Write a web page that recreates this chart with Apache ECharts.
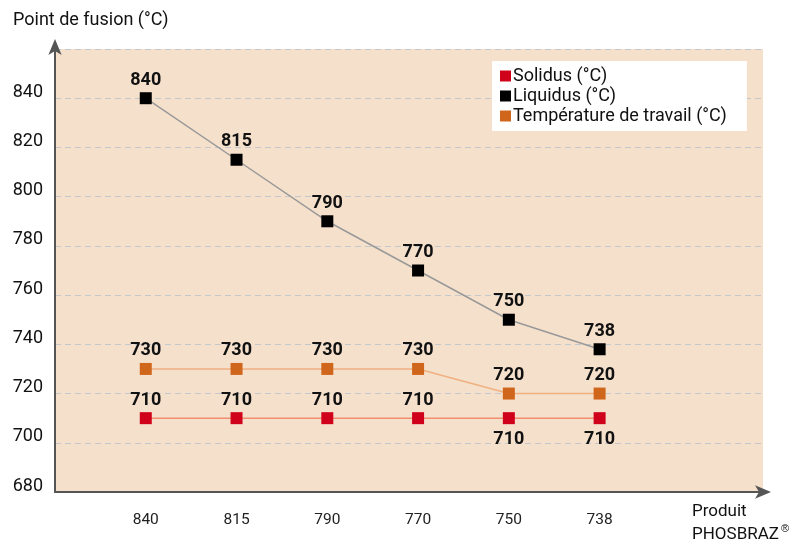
<!DOCTYPE html>
<html>
<head>
<meta charset="utf-8">
<script src="https://cdn.jsdelivr.net/npm/echarts@6/dist/echarts.min.js"></script>
<style>
  html, body { margin: 0; padding: 0; background: #fff; }
  #chart { width: 799px; height: 547px; }
</style>
</head>
<body>
<div id="chart"></div>
<script>
var categories = ['840', '815', '790', '770', '750', '738'];
var solidus = [710, 710, 710, 710, 710, 710];
var liquidus = [840, 815, 790, 770, 750, 738];
var travail = [730, 730, 730, 730, 720, 720];
var yTicks = [680, 700, 720, 740, 760, 780, 800, 820, 840];

var FONT = 'Roboto';

function pts(arr) {
  return arr.map(function (v, i) { return [i, v]; });
}

var labelStyle = {
  show: true,
  position: 'top',
  distance: 3,
  fontFamily: FONT,
  fontWeight: 'bold',
  fontSize: 18,
  color: '#111'
};

var chart = echarts.init(document.getElementById('chart'));
chart.setOption({
  backgroundColor: '#fff',
  animation: false,
  grid: { left: 55, right: 36, top: 49, bottom: 55, backgroundColor: '#f5e0cc', show: true, borderWidth: 0 },
  legend: {
    orient: 'vertical',
    left: 492, top: 61,
    padding: [6, 20, 6, 8],
    backgroundColor: '#fff',
    itemWidth: 11, itemHeight: 11, itemGap: 2,
    textStyle: { fontFamily: FONT, fontSize: 18, color: '#111', padding: [0, 0, 0, -3] },
    data: [
      { name: 'Solidus (°C)', icon: 'rect' },
      { name: 'Liquidus (°C)', icon: 'rect' },
      { name: 'Température de travail (°C)', icon: 'rect' }
    ]
  },
  xAxis: {
    type: 'value',
    min: -1, max: 6.8, interval: 1,
    axisLine: { show: true, onZero: false, lineStyle: { color: '#555', width: 2 }, symbol: ['none', 'arrow'], symbolSize: [10, 16], symbolOffset: [0, 8] },
    axisTick: { show: false },
    splitLine: { show: false },
    axisLabel: {
      margin: 20,
      fontFamily: FONT, fontSize: 15.5, color: '#222',
      formatter: function (v) { return categories[v] !== undefined ? categories[v] : ''; }
    }
  },
  yAxis: {
    type: 'value',
    min: 680, max: 860, interval: 20,
    axisLine: { show: true, onZero: false, lineStyle: { color: '#555', width: 2 }, symbol: ['none', 'arrow'], symbolSize: [10, 16], symbolOffset: [0, 10] },
    axisTick: { show: false },
    splitLine: { show: true, lineStyle: { color: '#c4c8cc', type: [6, 4], width: 1 } },
    axisLabel: {
      margin: 12,
      verticalAlign: 'bottom',
      lineHeight: 12,
      fontFamily: FONT, fontSize: 18, color: '#111',
      formatter: function (v) { return yTicks.indexOf(v) >= 0 ? String(v) : ''; }
    }
  },
  graphic: [
    { type: 'text', left: 13, top: 11, style: { text: 'Point de fusion (°C)', fontFamily: FONT, fontSize: 18, fill: '#111' } },
    { type: 'text', left: 692, top: 500, style: {
      text: 'Produit\nPHOSBRAZ{s|®}', fontFamily: FONT, fontSize: 17, fill: '#111', lineHeight: 23,
      rich: { s: { fontSize: 11, verticalAlign: 'top', padding: [0, 0, 6, 2], fill: '#111' } }
    } }
  ],
  series: [
    {
      name: 'Liquidus (°C)', type: 'line', data: pts(liquidus),
      symbol: 'rect', symbolSize: 12, itemStyle: { color: '#000' },
      lineStyle: { color: '#999', width: 1.5 },
      label: labelStyle
    },
    {
      name: 'Température de travail (°C)', type: 'line', data: pts(travail),
      symbol: 'rect', symbolSize: 12, itemStyle: { color: '#d0661c' },
      lineStyle: { color: '#f0b080', width: 1.5 },
      label: labelStyle
    },
    {
      name: 'Solidus (°C)', type: 'line',
      data: pts(solidus).map(function (p, i) {
        return i >= 4 ? { value: p, label: { position: 'bottom', distance: 6 } } : { value: p };
      }),
      symbol: 'rect', symbolSize: 12, itemStyle: { color: '#d0021b' },
      lineStyle: { color: '#f09070', width: 1.5 },
      label: labelStyle
    }
  ]
});
</script>
</body>
</html>
